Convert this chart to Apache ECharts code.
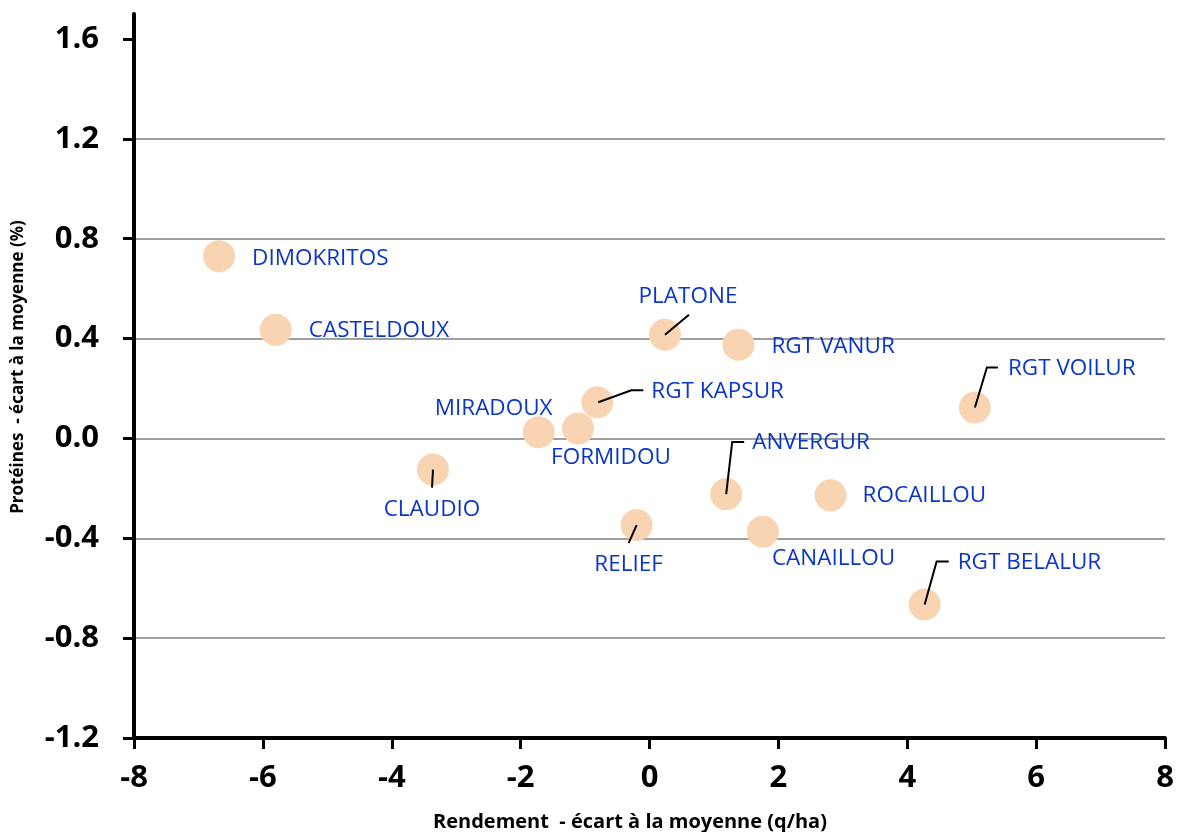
<!DOCTYPE html>
<html>
<head>
<meta charset="utf-8">
<script src="https://cdn.jsdelivr.net/npm/echarts@6/dist/echarts.min.js"></script>
<style>
html,body{margin:0;padding:0;background:#fff;}
#chart{width:1178px;height:832px;}
</style>
</head>
<body>
<div id="chart"></div>
<script>
// ---- data ----
const varieties = ['DIMOKRITOS','CASTELDOUX','PLATONE','RGT VANUR','RGT KAPSUR','MIRADOUX','FORMIDOU','CLAUDIO','RELIEF','ANVERGUR','ROCAILLOU','CANAILLOU','RGT VOILUR','RGT BELALUR'];
const rendement = [-6.68, -5.80, 0.24, 1.38, -0.81, -1.72, -1.11, -3.36, -0.20, 1.19, 2.81, 1.76, 5.05, 4.27];
const proteines = [0.73, 0.435, 0.415, 0.375, 0.145, 0.025, 0.04, -0.125, -0.347, -0.223, -0.228, -0.374, 0.124, -0.665];
const xTicks = [-8, -6, -4, -2, 0, 2, 4, 6, 8];
const yTicks = [-1.2, -0.8, -0.4, 0, 0.4, 0.8, 1.2, 1.6];

// ---- label placement (pixel offsets from the point, styling only) ----
const labelPlace = {
  'DIMOKRITOS': [33, 2, 'left'],
  'CASTELDOUX': [33, 1, 'left'],
  'PLATONE': [23, -38, 'center'],
  'RGT VANUR': [33, 2, 'left'],
  'RGT KAPSUR': [54, -11, 'left'],
  'MIRADOUX': [-45, -24, 'center'],
  'FORMIDOU': [33, 29, 'center'],
  'CLAUDIO': [-1, 40, 'center'],
  'RELIEF': [-8, 40, 'center'],
  'ANVERGUR': [26, -51, 'left'],
  'ROCAILLOU': [32, 0, 'left'],
  'CANAILLOU': [9, 27, 'left'],
  'RGT VOILUR': [33, -39, 'left'],
  'RGT BELALUR': [33, -42, 'left']
};
const leaderPaths = {
  'PLATONE': [[0,0],[24,-20]],
  'RGT KAPSUR': [[1,0],[34,-12],[46,-12]],
  'CLAUDIO': [[0,0],[-1,18]],
  'RELIEF': [[0,0],[-8,18]],
  'ANVERGUR': [[0,0],[6,-52],[18,-52]],
  'RGT VOILUR': [[0,0],[12,-40],[23,-40]],
  'RGT BELALUR': [[0,0],[12,-43],[24,-43]]
};

const FONT = 'Open Sans';
const scatterData = varieties.map((n, i) => {
  const p = labelPlace[n];
  return {
    name: n,
    value: [rendement[i], proteines[i]],
    label: { offset: [p[0], p[1]], align: p[2] }
  };
});
const leaderData = [];
varieties.forEach((n, i) => { if (leaderPaths[n]) leaderData.push({ name: n, value: [rendement[i], proteines[i]] }); });

const chart = echarts.init(document.getElementById('chart'));
chart.setOption({
  animation: false,
  backgroundColor: '#fff',
  grid: { left: 134, right: 13, top: 14, bottom: 94, containLabel: false, outerBoundsMode: 'none' },
  xAxis: {
    type: 'value', min: -8, max: 8, interval: 2,
    name: 'Rendement  - écart à la moyenne (q/ha)',
    nameLocation: 'middle', nameGap: 74,
    nameTextStyle: { fontFamily: FONT, fontWeight: 'bold', fontSize: 20, color: '#000', padding: [0, 39, 0, 0] },
    axisLine: { onZero: false, lineStyle: { color: '#000', width: 4 } },
    axisTick: { show: true, length: 11, lineStyle: { color: '#000', width: 3 }, customValues: xTicks },
    axisLabel: { fontFamily: FONT, fontWeight: 'bold', fontSize: 31, color: '#000', margin: 25, customValues: xTicks },
    splitLine: { show: false }
  },
  yAxis: {
    type: 'value', min: -1.2, max: 1.7, interval: 0.4,
    name: 'Protéines  - écart à la moyenne (%)',
    nameLocation: 'middle', nameGap: 107,
    nameTextStyle: { fontFamily: FONT, fontWeight: 'bold', fontSize: 17, color: '#000', padding: [0, 0, 0, 18] },
    axisLine: { onZero: false, lineStyle: { color: '#000', width: 4 } },
    axisTick: { show: true, length: 11, lineStyle: { color: '#000', width: 3 }, customValues: yTicks },
    axisLabel: { fontFamily: FONT, fontWeight: 'bold', fontSize: 31, color: '#000', margin: 35,
      customValues: yTicks, formatter: v => Number(v).toFixed(1) },
    splitLine: { show: true, showMinLine: false, showMaxLine: false, lineStyle: { color: '#A0A0A0', width: 2 } }
  },
  series: [
    {
      type: 'scatter',
      data: scatterData,
      symbol: 'circle',
      symbolSize: 32,
      itemStyle: { color: '#F9D4B3', opacity: 1 },
      label: {
        show: true, position: 'inside', verticalAlign: 'middle',
        formatter: p => p.name,
        fontFamily: FONT, fontSize: 22.5, color: '#0A36C8'
      },
      z: 2
    },
    {
      type: 'custom',
      data: leaderData,
      z: 3,
      silent: true,
      renderItem: function (params, api) {
        const c = api.coord([api.value(0), api.value(1)]);
        const name = leaderData[params.dataIndex].name;
        const pts = leaderPaths[name].map(o => [c[0] + o[0], c[1] + o[1]]);
        return { type: 'polyline', shape: { points: pts }, style: { stroke: '#000', lineWidth: 2, fill: null } };
      }
    }
  ]
});
</script>
</body>
</html>
